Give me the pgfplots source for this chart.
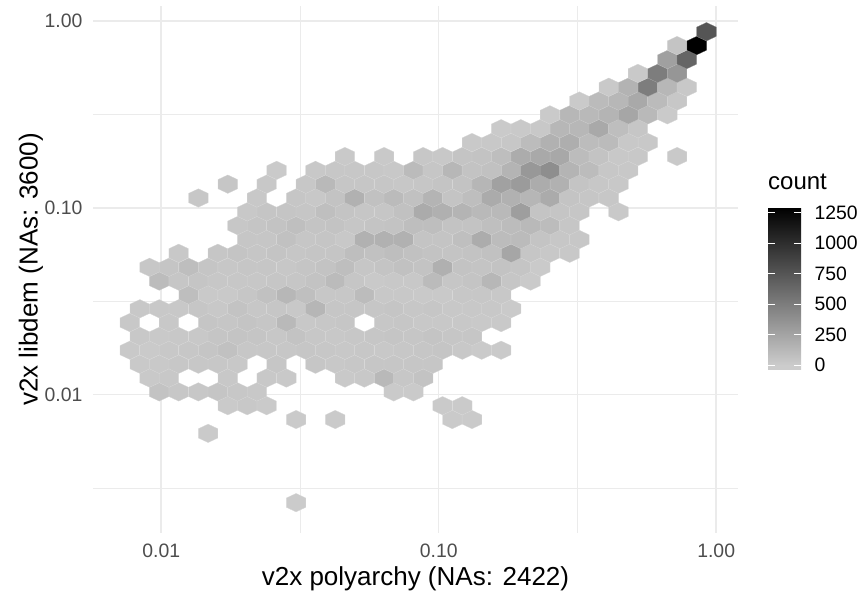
\documentclass[border=0pt]{standalone}
\usepackage{fontspec}
\setmainfont{Liberation Sans}
\usepackage{pgfplots}
\pgfplotsset{compat=1.18}
\definecolor{gridg}{HTML}{EBEBEB}
\definecolor{tickg}{HTML}{4D4D4D}
% pointy-top hexagon, squashed like the log-log bins
\pgfdeclareplotmark{hexb}{%
  \pgfpathmoveto{\pgfqpoint{0pt}{9.23pt}}%
  \pgfpathlineto{\pgfqpoint{9.77pt}{4.62pt}}%
  \pgfpathlineto{\pgfqpoint{9.77pt}{-4.62pt}}%
  \pgfpathlineto{\pgfqpoint{0pt}{-9.23pt}}%
  \pgfpathlineto{\pgfqpoint{-9.77pt}{-4.62pt}}%
  \pgfpathlineto{\pgfqpoint{-9.77pt}{4.62pt}}%
  \pgfpathclose
  \pgfusepathqfillstroke
}
\newcommand{\tfont}{\fontsize{19.4}{23}\selectfont}
\begin{document}
\begin{tikzpicture}
\path[use as bounding box] (-93pt,-67.3pt) rectangle (770pt,532.7pt);
\begin{axis}[
  scale only axis,
  width=645pt, height=526.7pt,
  xmin=-2.2458, xmax=0.0786,
  ymin=-2.7388, ymax=0.0808,
  xtick={-2,-1,0}, xticklabels={0.01,0.10,1.00},
  ytick={-2,-1,0}, yticklabels={0.01,0.10,1.00},
  minor xtick={-1.5,-0.5},
  minor ytick={-2.5,-1.5,-0.5},
  grid=both,
  major grid style={draw=gridg, line width=1.5pt},
  minor grid style={draw=gridg, line width=0.75pt},
  axis line style={draw=none},
  tick style={draw=none},
  major tick length=0pt, minor tick length=0pt,
  tick label style={font=\tfont, text=tickg},
  xticklabel style={yshift=-8pt},
  yticklabel style={xshift=-7pt},
  xlabel={v2x polyarchy (NAs: 2422)},
  ylabel={v2x libdem (NAs: 3600)},
  label style={font=\fontsize{26}{30}\selectfont},
  xlabel style={at={(axis description cs:0.5,0)}, anchor=center, yshift=-46pt},
  ylabel style={at={(axis description cs:0,0.5)}, anchor=center, yshift=62pt},
  colormap={hexgrey}{gray(0cm)=(0.8); gray(1cm)=(0.8); gray(40cm)=(0)},
  point meta min=-33, point meta max=1291,
  colorbar,
  colorbar/width=33pt,
  colorbar shift/.style={xshift=30pt, yshift=-19pt},
  colorbar style={
    at={(parent axis.east)}, anchor=west,
    height=162pt,
    axis line style={draw=none},
    xtick=\empty,
    ytick={0,250,500,750,1000,1250},
    yticklabels={0,250,500,750,1000,1250},
    yticklabel pos=right,
    ytick pos=both,
    tick align=inside,
    major tick length=6.6pt,
    tick style={draw=white, line width=0.7pt},
    yticklabel style={font=\tfont, text=black, xshift=10pt},
  },
  scatter/use mapped color={draw=mapped color!75!white, fill=mapped color},
]
\addplot[scatter, only marks, mark=hexb, line width=0.25pt, point meta=explicit] coordinates {
  (-1.514,-2.578)[5]
  (-1.831,-2.207)[10]
  (-1.514,-2.133)[10] (-1.373,-2.133)[10] (-0.951,-2.133)[10] (-0.880,-2.133)[10]
  (-1.760,-2.059)[15] (-1.690,-2.059)[25] (-1.620,-2.059)[15] (-0.986,-2.059)[10] (-0.915,-2.059)[10]
  (-2.007,-1.985)[60] (-1.937,-1.985)[30] (-1.866,-1.985)[30] (-1.796,-1.985)[45] (-1.725,-1.985)[30] (-1.655,-1.985)[25] (-1.162,-1.985)[15] (-1.091,-1.985)[15]
  (-2.042,-1.911)[20] (-1.972,-1.911)[25] (-1.760,-1.911)[25] (-1.620,-1.911)[25] (-1.549,-1.911)[20] (-1.338,-1.911)[20] (-1.268,-1.911)[25] (-1.197,-1.911)[120] (-1.127,-1.911)[30] (-1.056,-1.911)[60]
  (-2.077,-1.837)[20] (-2.007,-1.837)[20] (-1.937,-1.837)[30] (-1.866,-1.837)[30] (-1.796,-1.837)[30] (-1.725,-1.837)[25] (-1.584,-1.837)[40] (-1.444,-1.837)[35] (-1.373,-1.837)[25] (-1.303,-1.837)[30] (-1.232,-1.837)[35] (-1.162,-1.837)[35] (-1.091,-1.837)[35] (-1.021,-1.837)[40]
  (-2.113,-1.762)[20] (-2.042,-1.762)[15] (-1.972,-1.762)[25] (-1.901,-1.762)[30] (-1.831,-1.762)[45] (-1.760,-1.762)[70] (-1.690,-1.762)[30] (-1.620,-1.762)[30] (-1.549,-1.762)[30] (-1.479,-1.762)[35] (-1.408,-1.762)[30] (-1.338,-1.762)[25] (-1.268,-1.762)[30] (-1.197,-1.762)[25] (-1.127,-1.762)[30] (-1.056,-1.762)[35] (-0.986,-1.762)[45] (-0.915,-1.762)[25] (-0.845,-1.762)[15] (-0.775,-1.762)[15]
  (-2.077,-1.688)[25] (-2.007,-1.688)[20] (-1.937,-1.688)[25] (-1.866,-1.688)[25] (-1.796,-1.688)[45] (-1.725,-1.688)[50] (-1.655,-1.688)[45] (-1.584,-1.688)[30] (-1.514,-1.688)[55] (-1.444,-1.688)[30] (-1.373,-1.688)[25] (-1.303,-1.688)[30] (-1.232,-1.688)[35] (-1.162,-1.688)[45] (-1.091,-1.688)[35] (-1.021,-1.688)[50] (-0.951,-1.688)[40] (-0.880,-1.688)[35]
  (-2.113,-1.614)[25] (-1.972,-1.614)[25] (-1.831,-1.614)[45] (-1.760,-1.614)[35] (-1.690,-1.614)[50] (-1.620,-1.614)[40] (-1.549,-1.614)[120] (-1.479,-1.614)[25] (-1.408,-1.614)[30] (-1.338,-1.614)[35] (-1.197,-1.614)[30] (-1.127,-1.614)[35] (-1.056,-1.614)[25] (-0.986,-1.614)[25] (-0.915,-1.614)[25] (-0.845,-1.614)[20] (-0.775,-1.614)[20]
  (-2.077,-1.540)[25] (-2.007,-1.540)[25] (-1.937,-1.540)[25] (-1.866,-1.540)[35] (-1.796,-1.540)[25] (-1.725,-1.540)[55] (-1.655,-1.540)[30] (-1.584,-1.540)[35] (-1.514,-1.540)[25] (-1.444,-1.540)[140] (-1.373,-1.540)[35] (-1.303,-1.540)[35] (-1.232,-1.540)[35] (-1.162,-1.540)[45] (-1.091,-1.540)[30] (-1.021,-1.540)[35] (-0.951,-1.540)[25] (-0.880,-1.540)[25] (-0.810,-1.540)[25] (-0.739,-1.540)[15]
  (-1.901,-1.466)[90] (-1.831,-1.466)[20] (-1.760,-1.466)[20] (-1.690,-1.466)[40] (-1.620,-1.466)[70] (-1.549,-1.466)[130] (-1.479,-1.466)[80] (-1.408,-1.466)[30] (-1.338,-1.466)[30] (-1.268,-1.466)[100] (-1.197,-1.466)[25] (-1.127,-1.466)[25] (-1.056,-1.466)[20] (-0.986,-1.466)[20] (-0.915,-1.466)[30] (-0.845,-1.466)[30] (-0.775,-1.466)[25]
  (-2.007,-1.392)[100] (-1.937,-1.392)[40] (-1.866,-1.392)[45] (-1.796,-1.392)[30] (-1.725,-1.392)[30] (-1.655,-1.392)[30] (-1.584,-1.392)[40] (-1.514,-1.392)[35] (-1.444,-1.392)[60] (-1.373,-1.392)[110] (-1.303,-1.392)[40] (-1.232,-1.392)[20] (-1.162,-1.392)[25] (-1.091,-1.392)[25] (-1.021,-1.392)[110] (-0.951,-1.392)[35] (-0.880,-1.392)[50] (-0.810,-1.392)[130] (-0.739,-1.392)[40] (-0.669,-1.392)[15]
  (-2.042,-1.318)[30] (-1.972,-1.318)[45] (-1.901,-1.318)[90] (-1.831,-1.318)[45] (-1.760,-1.318)[30] (-1.690,-1.318)[35] (-1.620,-1.318)[35] (-1.549,-1.318)[30] (-1.479,-1.318)[45] (-1.408,-1.318)[60] (-1.338,-1.318)[90] (-1.268,-1.318)[40] (-1.197,-1.318)[50] (-1.127,-1.318)[70] (-1.056,-1.318)[60] (-0.986,-1.318)[180] (-0.915,-1.318)[60] (-0.845,-1.318)[50] (-0.775,-1.318)[60] (-0.704,-1.318)[45] (-0.634,-1.318)[15]
  (-1.937,-1.243)[25] (-1.796,-1.243)[40] (-1.725,-1.243)[50] (-1.655,-1.243)[35] (-1.584,-1.243)[50] (-1.514,-1.243)[40] (-1.444,-1.243)[45] (-1.373,-1.243)[45] (-1.303,-1.243)[90] (-1.232,-1.243)[70] (-1.162,-1.243)[90] (-1.091,-1.243)[70] (-1.021,-1.243)[60] (-0.951,-1.243)[50] (-0.880,-1.243)[60] (-0.810,-1.243)[70] (-0.739,-1.243)[240] (-0.669,-1.243)[40] (-0.599,-1.243)[25] (-0.528,-1.243)[25]
  (-1.690,-1.169)[40] (-1.620,-1.169)[35] (-1.549,-1.169)[70] (-1.479,-1.169)[40] (-1.408,-1.169)[45] (-1.338,-1.169)[25] (-1.268,-1.169)[170] (-1.197,-1.169)[170] (-1.127,-1.169)[170] (-1.056,-1.169)[50] (-0.986,-1.169)[50] (-0.915,-1.169)[80] (-0.845,-1.169)[200] (-0.775,-1.169)[100] (-0.704,-1.169)[110] (-0.634,-1.169)[50] (-0.563,-1.169)[30] (-0.493,-1.169)[30]
  (-1.725,-1.095)[30] (-1.655,-1.095)[45] (-1.584,-1.095)[60] (-1.514,-1.095)[85] (-1.444,-1.095)[50] (-1.373,-1.095)[60] (-1.303,-1.095)[40] (-1.232,-1.095)[50] (-1.162,-1.095)[60] (-1.091,-1.095)[90] (-1.021,-1.095)[90] (-0.951,-1.095)[55] (-0.880,-1.095)[60] (-0.810,-1.095)[80] (-0.739,-1.095)[100] (-0.669,-1.095)[120] (-0.599,-1.095)[100] (-0.528,-1.095)[40]
  (-1.690,-1.021)[25] (-1.620,-1.021)[45] (-1.549,-1.021)[45] (-1.479,-1.021)[40] (-1.408,-1.021)[85] (-1.338,-1.021)[50] (-1.268,-1.021)[40] (-1.197,-1.021)[35] (-1.127,-1.021)[70] (-1.056,-1.021)[210] (-0.986,-1.021)[180] (-0.915,-1.021)[150] (-0.845,-1.021)[120] (-0.775,-1.021)[120] (-0.704,-1.021)[290] (-0.634,-1.021)[50] (-0.563,-1.021)[45] (-0.493,-1.021)[40] (-0.352,-1.021)[20]
  (-1.866,-0.947)[30] (-1.655,-0.947)[25] (-1.514,-0.947)[35] (-1.444,-0.947)[25] (-1.373,-0.947)[60] (-1.303,-0.947)[170] (-1.232,-0.947)[70] (-1.162,-0.947)[110] (-1.091,-0.947)[70] (-1.021,-0.947)[150] (-0.951,-0.947)[50] (-0.880,-0.947)[90] (-0.810,-0.947)[210] (-0.739,-0.947)[170] (-0.669,-0.947)[140] (-0.599,-0.947)[210] (-0.528,-0.947)[50] (-0.458,-0.947)[35] (-0.387,-0.947)[30]
  (-1.760,-0.873)[40] (-1.620,-0.873)[25] (-1.479,-0.873)[30] (-1.408,-0.873)[120] (-1.338,-0.873)[40] (-1.268,-0.873)[35] (-1.197,-0.873)[35] (-1.127,-0.873)[30] (-1.056,-0.873)[40] (-0.986,-0.873)[50] (-0.915,-0.873)[60] (-0.845,-0.873)[140] (-0.775,-0.873)[270] (-0.704,-0.873)[310] (-0.634,-0.873)[200] (-0.563,-0.873)[170] (-0.493,-0.873)[50] (-0.423,-0.873)[30] (-0.352,-0.873)[25]
  (-1.584,-0.799)[15] (-1.444,-0.799)[25] (-1.373,-0.799)[30] (-1.303,-0.799)[30] (-1.232,-0.799)[30] (-1.162,-0.799)[25] (-1.091,-0.799)[110] (-1.021,-0.799)[40] (-0.951,-0.799)[130] (-0.880,-0.799)[60] (-0.810,-0.799)[70] (-0.739,-0.799)[150] (-0.669,-0.799)[330] (-0.599,-0.799)[390] (-0.528,-0.799)[150] (-0.458,-0.799)[100] (-0.387,-0.799)[30] (-0.317,-0.799)[25]
  (-1.338,-0.725)[20] (-1.197,-0.725)[20] (-1.056,-0.725)[30] (-0.986,-0.725)[25] (-0.915,-0.725)[50] (-0.845,-0.725)[60] (-0.775,-0.725)[90] (-0.704,-0.725)[200] (-0.634,-0.725)[220] (-0.563,-0.725)[230] (-0.493,-0.725)[100] (-0.423,-0.725)[60] (-0.352,-0.725)[25] (-0.282,-0.725)[25] (-0.141,-0.725)[20]
  (-0.880,-0.650)[20] (-0.810,-0.650)[25] (-0.739,-0.650)[30] (-0.669,-0.650)[100] (-0.599,-0.650)[170] (-0.528,-0.650)[190] (-0.458,-0.650)[100] (-0.387,-0.650)[110] (-0.317,-0.650)[25] (-0.246,-0.650)[25]
  (-0.775,-0.576)[15] (-0.704,-0.576)[20] (-0.634,-0.576)[25] (-0.563,-0.576)[130] (-0.493,-0.576)[130] (-0.423,-0.576)[220] (-0.352,-0.576)[90] (-0.282,-0.576)[40]
  (-0.599,-0.502)[15] (-0.528,-0.502)[130] (-0.458,-0.502)[120] (-0.387,-0.502)[150] (-0.317,-0.502)[240] (-0.246,-0.502)[120] (-0.176,-0.502)[15]
  (-0.493,-0.428)[15] (-0.423,-0.428)[110] (-0.352,-0.428)[130] (-0.282,-0.428)[220] (-0.211,-0.428)[110] (-0.141,-0.428)[30]
  (-0.387,-0.354)[20] (-0.317,-0.354)[160] (-0.246,-0.354)[500] (-0.176,-0.354)[130] (-0.106,-0.354)[25]
  (-0.282,-0.280)[20] (-0.211,-0.280)[500] (-0.141,-0.280)[340]
  (-0.176,-0.206)[280] (-0.106,-0.206)[650]
  (-0.141,-0.131)[50] (-0.070,-0.131)[1290]
  (-0.035,-0.057)[750]
};
\end{axis}
\node[anchor=base west, inner sep=0pt, font=\fontsize{24}{28}\selectfont] at (675pt,343pt) {count};
\end{tikzpicture}
\end{document}
